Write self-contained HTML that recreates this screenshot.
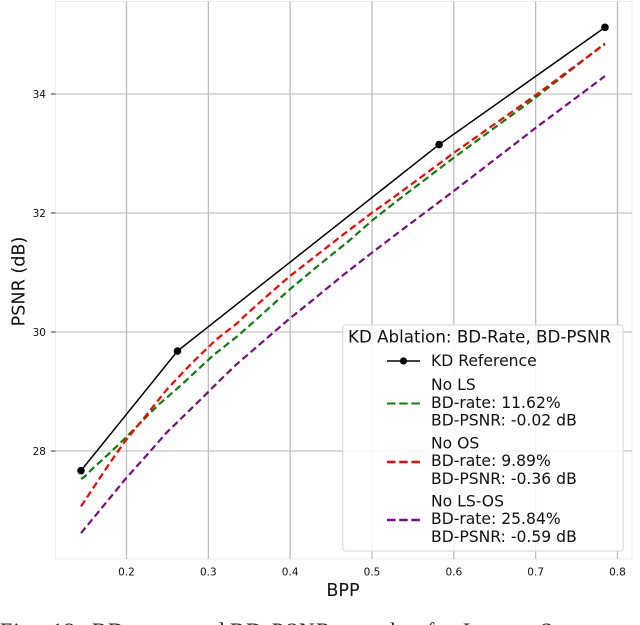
<!DOCTYPE html>
<html>
<head>
<meta charset="utf-8">
<style>
html,body{margin:0;padding:0;background:#fff;}
body{width:640px;height:625px;overflow:hidden;}
svg{display:block;filter:blur(0.35px);}
text{font-family:"DejaVu Sans","Liberation Sans",sans-serif;fill:#111;}
</style>
</head>
<body>
<svg id="chart" width="640" height="625" viewBox="0 0 640 625" xmlns="http://www.w3.org/2000/svg"></svg>
<script>
const xTicks = [0.2, 0.3, 0.4, 0.5, 0.6, 0.7, 0.8];
const yTicks = [28, 30, 32, 34];
const refBpp = [0.1444, 0.2623, 0.582, 0.7847];
const refPsnr = [27.67, 29.68, 33.15, 35.12];
const noLsBpp = [0.1444, 0.149, 0.1575, 0.1798, 0.198, 0.2247, 0.2409, 0.2654, 0.2858, 0.3061, 0.3347, 0.3611, 0.3998, 0.4365, 0.4691, 0.5016, 0.5302, 0.6, 0.7, 0.7847];
const noLs = [27.53, 27.57, 27.69, 27.97, 28.21, 28.58, 28.8, 29.09, 29.35, 29.61, 29.92, 30.24, 30.72, 31.14, 31.5, 31.89, 32.2, 32.93, 33.94, 34.85];
const noOsBpp = [0.1444, 0.1778, 0.198, 0.2247, 0.2491, 0.2613, 0.2816, 0.3102, 0.3347, 0.3427, 0.3754, 0.3998, 0.4324, 0.4651, 0.5016, 0.5302, 0.6, 0.7, 0.7847];
const noOs = [27.07, 27.76, 28.16, 28.61, 29.03, 29.21, 29.5, 29.88, 30.14, 30.25, 30.65, 30.94, 31.29, 31.64, 32.02, 32.3, 33.01, 33.98, 34.84];
const noLsOsBpp = [0.1444, 0.2, 0.2104, 0.2287, 0.2491, 0.2715, 0.2939, 0.3143, 0.3347, 0.3998, 0.4243, 0.4651, 0.5016, 0.5302, 0.6, 0.7, 0.7847];
const noLsOs = [26.62, 27.55, 27.71, 27.99, 28.31, 28.61, 28.91, 29.19, 29.46, 30.23, 30.5, 30.96, 31.35, 31.65, 32.37, 33.43, 34.3];

const NS = 'http://www.w3.org/2000/svg';
const svg = document.getElementById('chart');
const X = v => 126.5 + (v - 0.2) * 818.3;
const Y = v => 451 - (v - 28) * 59.5;
const box = {l: 55.5, r: 632, t: 1.5, b: 559};

function make(tag, attrs, parent) {
  const el = document.createElementNS(NS, tag);
  for (const k in attrs) el.setAttribute(k, attrs[k]);
  (parent || svg).appendChild(el);
  return el;
}
function linePath(xs, ys) {
  return xs.map((v, i) => (i ? 'L' : 'M') + X(v).toFixed(2) + ' ' + Y(ys[i]).toFixed(2)).join(' ');
}

const frame = make('rect', {x: box.l, y: box.t, width: box.r - box.l, height: box.b - box.t, fill: '#fff', stroke: '#ececec', 'stroke-width': 1});



xTicks.forEach(t => {
  const g = make('line', {x1: X(t), x2: X(t), y1: box.t, y2: box.b, stroke: '#bdbdbd', 'stroke-width': 1.3});
  
  
  const lab = make('text', {x: X(t), y: 575.5, 'text-anchor': 'middle', 'font-size': 10.5});
  
  
  lab.textContent = t.toFixed(1);
});
yTicks.forEach(t => {
  const g = make('line', {x1: box.l, x2: box.r, y1: Y(t), y2: Y(t), stroke: '#b8b8b8', 'stroke-width': 1});
  
  
  const tick = make('line', {x1: 51, x2: box.l, y1: Y(t), y2: Y(t), stroke: '#333', 'stroke-width': 1});
  
  
  const lab = make('text', {x: 46, y: Y(t) + 4, 'text-anchor': 'end', 'font-size': 10.5});
  
  
  lab.textContent = String(t);
});

const green = make('path', {d: linePath(noLsBpp, noLs), fill: 'none', stroke: '#0a800a', 'stroke-width': 2.2, 'stroke-dasharray': '7 3.8'});


const red = make('path', {d: linePath(noOsBpp, noOs), fill: 'none', stroke: '#ff0000', 'stroke-width': 2.2, 'stroke-dasharray': '7 3.8'});


const purple = make('path', {d: linePath(noLsOsBpp, noLsOs), fill: 'none', stroke: '#800a85', 'stroke-width': 2.2, 'stroke-dasharray': '7 3.8'});


const black = make('path', {d: linePath(refBpp, refPsnr), fill: 'none', stroke: '#000', 'stroke-width': 1.5});


refBpp.forEach((v, i) => {
  const c = make('circle', {cx: X(v), cy: Y(refPsnr[i]), r: 3.8, fill: '#000'});
  
  
});

const xTitle = make('text', {x: 343, y: 596, 'text-anchor': 'middle', 'font-size': 17.6});


xTitle.textContent = 'BPP';
const yTitle = make('text', {x: 0, y: 0, 'text-anchor': 'middle', 'font-size': 17.6, transform: 'translate(24.5,281.5) rotate(-90)'});


yTitle.textContent = 'PSNR (dB)';

const legend = make('g', {});


const legendBox = make('rect', {x: 342.7, y: 325, width: 280.5, height: 226, rx: 3, fill: '#fff', 'fill-opacity': 0.85, stroke: '#d6d6d6', 'stroke-width': 1}, legend);


const legendTitle = make('text', {x: 348, y: 342.5, 'font-size': 16.7}, legend);


legendTitle.textContent = 'KD Ablation: BD-Rate, BD-PSNR';

const legendLabels = [
  ['KD Reference', 366],
  ['No LS', 390], ['BD-rate: 11.62%', 408], ['BD-PSNR: -0.02 dB', 425.5],
  ['No OS', 448.5], ['BD-rate: 9.89%', 466], ['BD-PSNR: -0.36 dB', 484],
  ['No LS-OS', 506.5], ['BD-rate: 25.84%', 524], ['BD-PSNR: -0.59 dB', 542]
];
legendLabels.forEach(item => {
  const t = make('text', {x: 431, y: item[1], 'font-size': 15.6}, legend);
  
  
  t.textContent = item[0];
});

const keyRef = make('line', {x1: 387, x2: 420, y1: 361, y2: 361, stroke: '#000', 'stroke-width': 1.5}, legend);


const keyDot = make('circle', {cx: 403.5, cy: 361, r: 3.6, fill: '#000'}, legend);


const keyGreen = make('line', {x1: 387, x2: 420, y1: 403.5, y2: 403.5, stroke: '#0a800a', 'stroke-width': 2, 'stroke-dasharray': '8.5 3.7'}, legend);


const keyRed = make('line', {x1: 387, x2: 420, y1: 462, y2: 462, stroke: '#ff0000', 'stroke-width': 2.4, 'stroke-dasharray': '8.5 3.7'}, legend);


const keyPurple = make('line', {x1: 387, x2: 420, y1: 520, y2: 520, stroke: '#800a85', 'stroke-width': 2.4, 'stroke-dasharray': '8.5 3.7'}, legend);



const captionWords = ['Fig.', '12:', 'BD-rate', 'and', 'BD-PSNR', 'results', 'for', 'Lossy', 'Segmented'];
const captionGaps = [0, 52, 92, 190, 230, 348, 427, 463, 540];
const caption = make('text', {y: 638, 'font-size': 22, 'letter-spacing': 1.3});


caption.setAttribute('style', 'font-family:"Liberation Serif",serif;fill:#222;');
captionWords.forEach((w, i) => {
  const s = make('tspan', {x: captionGaps[i]}, caption);
  s.textContent = w;
});
</script>
</body>
</html>
